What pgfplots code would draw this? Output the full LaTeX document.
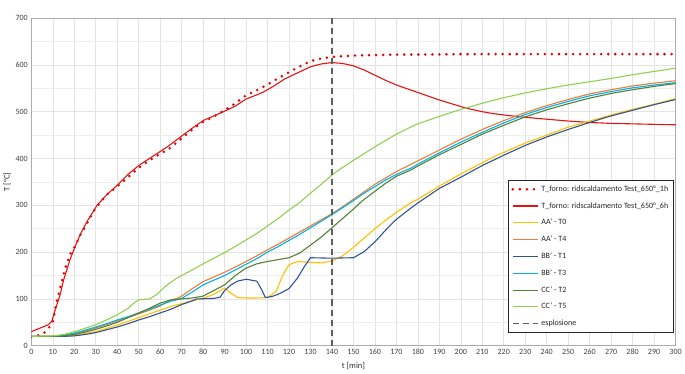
\documentclass[border=0pt]{standalone}
\usepackage{fontspec}
\setmainfont{Carlito}
\usepackage{pgfplots}
\usepackage{pgfplotstable}
\pgfplotsset{compat=1.18}

\definecolor{cRed}{RGB}{228,20,20}
\definecolor{cDot}{RGB}{225,0,0}
\definecolor{cYel}{RGB}{255,192,0}
\definecolor{cOra}{RGB}{237,125,49}
\definecolor{cBlu}{RGB}{47,85,151}
\definecolor{cCya}{RGB}{0,176,240}
\definecolor{cDgr}{RGB}{84,130,53}
\definecolor{cLgr}{RGB}{146,208,80}
\definecolor{cGry}{RGB}{95,95,95}

\pgfplotstableread{
t T
0 19
3 22
5.6 26
8 37
10 51
11.8 94
13.4 123
15.8 166
18 195
20 210
23 238
26 262
30 295
35 322
40 340
45 360
50 380
55 396
60 410
64 420
70 443
75 462
80 478
85 490
90 503
95 518
100 535
105 546
110 558
117 577
123 592
130 608
135 614
140 617
150 620
160 621
170 622
180 622
200 623
220 623
240 623
260 623
280 623
300 623
}\dotted

\pgfplotstableread{
t T
0 30
8 45
9.5 52
11 75
13.4 109
15 140
18 184
20.4 212
23 240
26 266
30.6 300
35 322
40 343
45 366
50 385
55 400
60 415
64 427
70 448
75 465
80 481
85 491
89 499
95 512
100 527
105 536
108 542
113 555
118 570
124 583
130 596
135 602
140 605
145 603
150 598
155 589
160 578
165 567
170 557
175 549
180 541
185 533
190 525
195 518
200 511
205 505
210 500
215 496
220 493
230 488
240 484
250 480
260 477
270 475
280 474
290 473
300 472
}\redsix

\pgfplotstableread{
t T
0 20
10 20
15 20
20 22
25 26
30 30
35 37
40 44
45 52
50 60
55 68
60 76
65 84
70 90
75 96
80 101
85 110
88 118
90 123
93 112
96 103
100 102
105 102
110 103
114 116
117 150
120 173
124 180
130 178
135 177
140 181
145 192
150 210
155 230
160 250
165 268
170 285
177 306
180 313
190 341
200 367
210 391
216 405
220 413
230 433
240 450
250 467
260 480
270 493
280 505
290 516
300 528
}\aazero

\pgfplotstableread{
t T
0 20
10 20
15 21
20 25
25 31
30 38
35 45
40 53
45 60
50 68
55 76
60 85
65 98
68 101
70 106
75 122
80 137
85 147
90 157
95 168
100 180
105 192
110 205
115 217
120 230
125 243
130 256
135 269
140 282
145 297
150 313
160 345
170 372
180 395
190 418
200 441
210 462
220 481
230 498
240 513
250 526
260 538
270 547
280 555
290 561
300 566
}\aafour

\pgfplotstableread{
t T
0 20
10 20
15 20
20 21
25 24
30 28
35 34
40 40
45 47
50 55
55 62
60 70
65 78
70 88
75 96
77 100
85 101
88 104
90 118
93 130
96 138
100 142
105 138
107 122
109 103
112 105
115 110
120 122
124 145
127 168
130 188
140 187
150 188
155 201
160 222
166 252
170 270
177 295
180 305
190 336
200 360
210 385
220 407
230 428
240 446
250 462
260 477
270 491
280 503
290 515
300 526
}\bbone

\pgfplotstableread{
t T
0 20
10 20
15 22
20 27
25 33
30 40
35 47
40 55
45 62
50 70
55 78
60 87
65 95
70 101
75 115
80 130
85 140
90 150
95 162
100 174
105 186
110 200
115 212
120 225
125 238
130 252
135 266
140 280
145 295
150 310
154 323
160 340
165 354
170 366
177 380
180 388
190 412
200 435
210 456
216 468
220 476
230 494
240 509
250 522
260 534
270 543
280 551
290 557
300 562
}\bbthree

\pgfplotstableread{
t T
0 20
10 20
15 21
20 24
25 29
30 35
35 42
40 50
45 60
50 70
55 80
60 91
65 98
70 100
75 102
80 106
85 118
90 130
95 150
100 166
105 175
110 180
115 184
120 188
125 198
130 215
135 232
140 252
145 272
150 292
154 309
160 330
165 347
170 362
177 376
180 384
190 408
200 430
210 452
220 471
230 489
240 504
250 517
260 529
270 539
280 547
290 554
300 560
}\cctwo

\pgfplotstableread{
t T
0 20
10 21
15 24
20 30
25 37
30 45
35 55
40 66
45 80
48 92
50 98
55 100
58 108
62 125
65 136
68 145
70 150
75 162
80 175
85 187
90 199
95 212
100 226
105 240
110 256
115 272
120 290
125 306
130 326
135 345
140 365
145 381
150 396
160 425
170 452
177 468
180 474
190 490
200 505
210 518
220 530
230 540
240 549
250 557
260 564
270 571
280 579
290 586
300 593
}\ccfive

\begin{document}
\begin{tikzpicture}
\begin{axis}[
  width=641pt, height=326pt, scale only axis,
  xmin=0, xmax=300, ymin=0, ymax=700,
  xtick={0,10,...,300}, ytick={0,100,...,700},
  minor ytick={50,150,...,650},
  grid=both,
  major grid style={draw=gray!22, line width=0.6pt},
  minor grid style={draw=gray!14, line width=0.5pt},
  tick style={draw=none},
  axis line style={draw=gray!65, line width=0.9pt},
  /pgf/number format/assume math mode=true,
  ticklabel style={font=\fontsize{8}{9}\selectfont, text=black!75},
  xlabel={t [min]}, ylabel={T [°C]},
  label style={font=\fontsize{8.5}{10}\selectfont, text=black!80},
  xlabel style={yshift=-1pt},
  ylabel style={yshift=-2pt},
  legend image code/.code={\draw[#1] (0pt,0pt) -- (25pt,0pt);},
  legend style={at={(rel axis cs:0.997,0.04)}, anchor=south east,
    draw=black!85, line width=0.7pt, font=\fontsize{8}{9}\selectfont,
    cells={anchor=west}, inner xsep=3pt, inner ysep=3pt,
    row sep=5.6pt, text=black!85},
]
\addplot[cDot, line width=2.8pt, dash pattern=on 0pt off 7pt, line cap=round] table[x=t,y=T]{\dotted};
\addlegendentry{T\_forno: ridscaldamento Test\_650°\_1h}
\addplot[cRed, line width=1.1pt] table[x=t,y=T]{\redsix};
\addlegendentry{T\_forno: ridscaldamento Test\_650°\_6h}
\addplot[cYel, line width=1.1pt] table[x=t,y=T]{\aazero};
\addlegendentry{AA' - T0}
\addplot[cOra, line width=1.1pt] table[x=t,y=T]{\aafour};
\addlegendentry{AA' - T4}
\addplot[cBlu, line width=1.1pt] table[x=t,y=T]{\bbone};
\addlegendentry{BB' - T1}
\addplot[cCya, line width=1.1pt] table[x=t,y=T]{\bbthree};
\addlegendentry{BB' - T3}
\addplot[cDgr, line width=1.1pt] table[x=t,y=T]{\cctwo};
\addlegendentry{CC' - T2}
\addplot[cLgr, line width=1.1pt] table[x=t,y=T]{\ccfive};
\addlegendentry{CC' - T5}
\addplot[cGry, line width=1.2pt, dash pattern=on 6pt off 4pt] coordinates {(140,0) (140,700)};
\addlegendentry{esplosione}
\end{axis}
\path ([yshift=18pt]current axis.north west) -- ([xshift=6pt,yshift=18pt]current axis.north east);
\end{tikzpicture}
\end{document}
